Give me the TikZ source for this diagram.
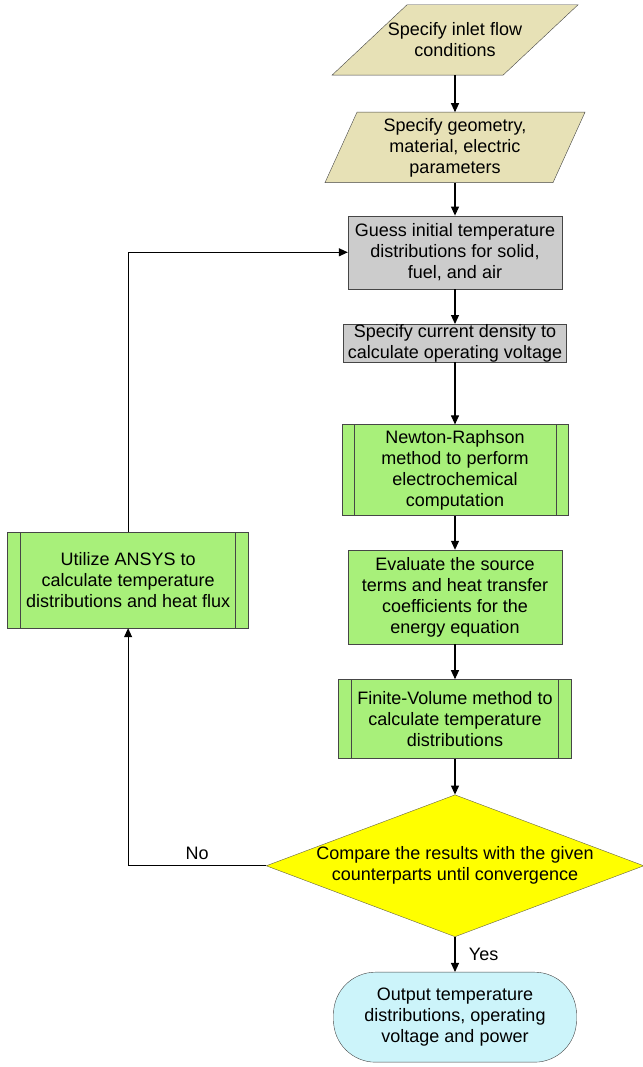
\documentclass[tikz,border=0pt]{standalone}
\usepackage{fontspec}
\setmainfont{Liberation Sans}
\usepackage{tikz}
\usetikzlibrary{arrows.meta,%
	shapes.geometric,%
	backgrounds}
\usetikzlibrary {positioning}
\usetikzlibrary{calc}

\definecolor{inputtan}{RGB}{231,225,182}
\definecolor{initgray}{RGB}{204,204,204}
\definecolor{procgreen}{RGB}{168,240,122}
\definecolor{testyellow}{RGB}{255,255,0}
\definecolor{outcyan}{RGB}{204,244,250}
\definecolor{edgegray}{RGB}{70,70,70}

\begin{document}
\begin{tikzpicture}[x = 1pt, y = 1pt, auto,
	every node/.style = {font = \fontsize{18}{21}\selectfont, align = center},
	io/.style = {rectangle, inner sep = 0pt, minimum height = 70pt},
	iofill/.style = {draw = edgegray, fill = inputtan},
	initbox/.style = {rectangle, draw = edgegray, fill = initgray, inner sep = 0pt},
	procbox/.style = {rectangle, draw = edgegray, fill = procgreen, inner sep = 0pt},
	subproc/.style = {procbox, path picture = {
		\draw[edgegray] ([xshift = #1]path picture bounding box.north west) -- ([xshift = #1]path picture bounding box.south west);
		\draw[edgegray] ([xshift = -#1]path picture bounding box.north east) -- ([xshift = -#1]path picture bounding box.south east);}},
	test/.style = {diamond, draw = black!70!yellow, fill = testyellow, inner sep = 0pt, shape aspect = 2.66},
	stop/.style = {rectangle, rounded corners = 42pt, draw = edgegray, fill = outcyan, inner sep = 0pt},
	flow/.style = {line width = 1.1pt, -{Triangle[length = 9pt, width = 8pt]}}]
	\useasboundingbox (0, 0) rectangle (642, -1067);
	\node[io] (inlet) at (455, -40) {Specify inlet flow\\conditions};
	\node[io] (geom) [below = 37pt of inlet] {Specify geometry,\\material, electric\\parameters};
	\node[initbox, minimum width = 214pt, minimum height = 73pt] (guess) [below = 33pt of geom] {Guess initial temperature\\distributions for solid,\\fuel, and air};
	\node[initbox, minimum width = 223pt, minimum height = 38pt] (current) [below = 35pt of guess] {Specify current density to\\calculate operating voltage};
	\node[subproc = 12pt, minimum width = 226pt, minimum height = 91pt] (newton) [below = 62pt of current] {Newton-Raphson\\method to perform\\electrochemical\\computation};
	\node[procbox, minimum width = 214pt, minimum height = 94pt] (source) [below = 34pt of newton] {Evaluate the source\\terms and heat transfer\\coefficients for the\\energy equation};
	\node[subproc = 13pt, minimum width = 233pt, minimum height = 79pt] (fv) [below = 35pt of source] {Finite-Volume method to\\calculate temperature\\distributions};
	\node[test] (comp) [below = 36pt of fv] {Compare the results with the given\\counterparts until convergence};
	\node[stop, minimum width = 243pt, minimum height = 90pt] (out) [below = 35pt of comp] {Output temperature\\distributions, operating\\voltage and power};
	\node[subproc = 13pt, minimum width = 241pt, minimum height = 96pt] (ansys) [left = 99pt of source, yshift = 17pt] {Utilize ANSYS to\\calculate temperature\\distributions and heat flux};
	% slanted input shapes behind the text
	\begin{scope}[on background layer]
		\filldraw[iofill] ([xshift = -123pt]inlet.south) -- ([xshift = 48pt]inlet.south) -- ([xshift = 123pt]inlet.north) -- ([xshift = -48pt]inlet.north) -- cycle;
		\filldraw[iofill] ([xshift = -130pt]geom.south) -- ([xshift = 98pt]geom.south) -- ([xshift = 130pt]geom.north) -- ([xshift = -98pt]geom.north) -- cycle;
	\end{scope}
	\draw[flow] (inlet) -- (geom);
	\draw[flow] (geom) -- (guess);
	\draw[flow] (guess) -- (current);
	\draw[flow] (current) -- (newton);
	\draw[flow] (newton) -- (source);
	\draw[flow] (source) -- (fv);
	\draw[flow] (fv) -- (comp);
	\draw[flow] (comp) -- node[right = 10pt]{Yes} (out);
	\draw[flow] (comp.west) -- node[above = 2pt]{No} (comp.west -| ansys.south) -- (ansys.south);
	\draw[flow] (ansys.north) |- (guess.west);
\end{tikzpicture}
\end{document}
